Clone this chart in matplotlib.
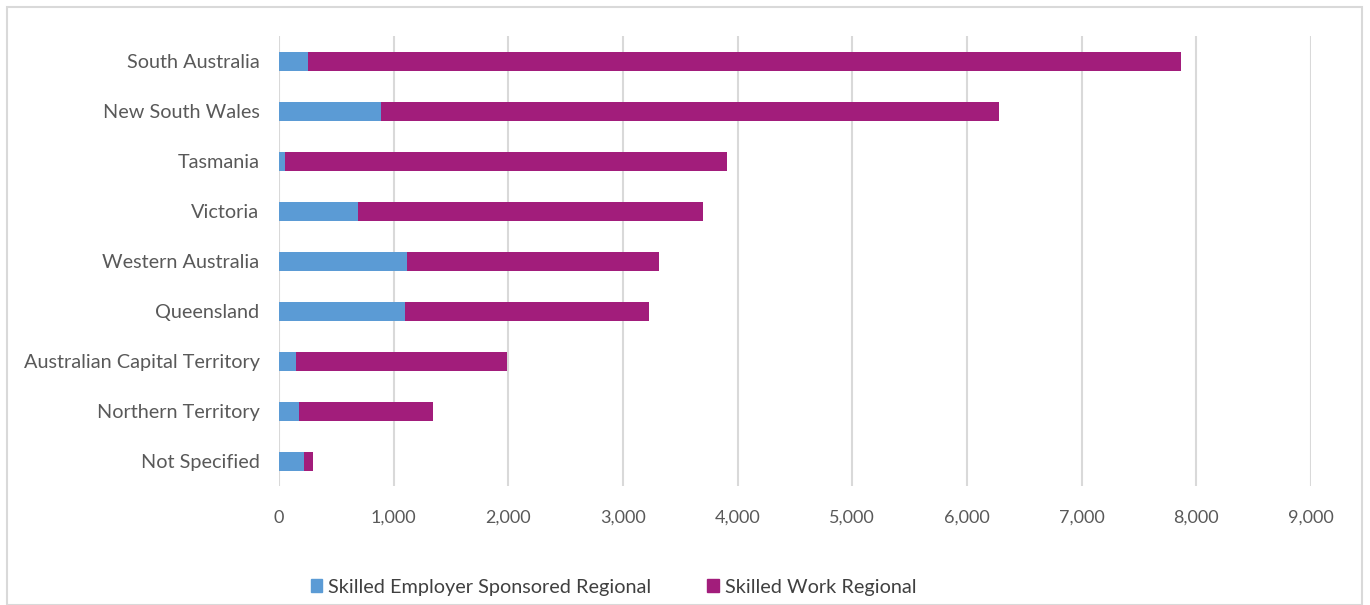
import matplotlib
matplotlib.use("Agg")
import matplotlib.pyplot as plt
from matplotlib.patches import Rectangle, Patch

categories = ["South Australia", "New South Wales", "Tasmania", "Victoria",
              "Western Australia", "Queensland", "Australian Capital Territory",
              "Northern Territory", "Not Specified"]
employer_sponsored = [250, 890, 52, 690, 1120, 1100, 148, 171, 217]
work_regional = [7620, 5390, 3853, 3010, 2195, 2125, 1842, 1174, 83]
series_names = ["Skilled Employer Sponsored Regional", "Skilled Work Regional"]
xticks = list(range(0, 9001, 1000))

plt.rcParams['font.family'] = ['Lato', 'DejaVu Sans']

fig = plt.figure(figsize=(13.7, 6.05), dpi=100)
ax = fig.add_axes([279/1370, 1-486/605, (1311-279)/1370, (486-36)/605])

blue = "#5B9BD5"
mag = "#A21D7B"
y = list(range(len(categories)))
ax.barh(y, employer_sponsored, height=0.38, color=blue, zorder=3)
ax.barh(y, work_regional, left=employer_sponsored, height=0.38, color=mag, zorder=3)

ax.set_ylim(len(categories)-0.5, -0.5)
ax.set_xlim(0, 9000)
ax.set_xticks(xticks)
ax.set_xticklabels([f"{v:,}" for v in xticks])
ax.set_yticks(y)
ax.set_yticklabels(categories)
ax.tick_params(axis='both', length=0, colors="#595959")
ax.tick_params(axis='y', pad=14, labelsize=14.3)
ax.tick_params(axis='x', pad=17, labelsize=13)
for s in ax.spines.values():
    s.set_visible(False)
ax.grid(axis='x', color="#D9D9D9", linewidth=1.5, zorder=0)
ax.set_axisbelow(True)

handles = [Patch(color=blue), Patch(color=mag)]
fig.legend(handles, series_names, loc='center', bbox_to_anchor=(613.5/1370, 1-587/605),
           ncol=2, frameon=False, fontsize=14.3, labelcolor="#404040",
           handlelength=0.6, handleheight=0.6, handletextpad=0.3, columnspacing=2.8)

fig.patches.append(Rectangle((7/1370, 0), (1362-7)/1370, 1-7/605, transform=fig.transFigure,
                             fill=False, edgecolor="#D9D9D9", linewidth=1.5))

fig.savefig("out.png", dpi=100)
